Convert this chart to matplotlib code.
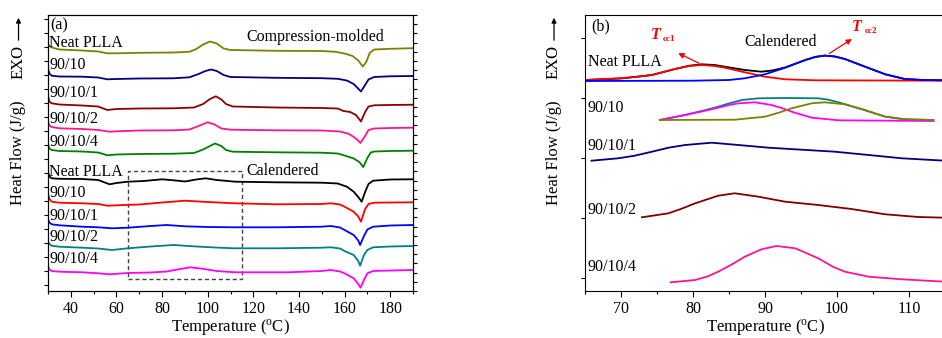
import matplotlib
matplotlib.use("Agg")
import matplotlib.pyplot as plt
from matplotlib.patches import Rectangle
from matplotlib.ticker import MultipleLocator

plt.rcParams["font.family"] = ["Liberation Serif", "DejaVu Serif"]
plt.rcParams["mathtext.fontset"] = "custom"
plt.rcParams["mathtext.rm"] = "Liberation Serif"
plt.rcParams["mathtext.it"] = "Liberation Serif:italic"
plt.rcParams["mathtext.bf"] = "Liberation Serif:bold"

# ---- panel (a): full DSC heating scans (arbitrary heat-flow units, stacked) ----
cm_neat_t = [30, 30.6, 31.6, 35, 45, 52, 56, 60, 70, 85, 92, 95, 98, 101, 104, 107, 110, 130, 150, 156,
             160, 163.5, 166, 168, 169.5, 171, 173, 180, 190]
cm_neat_hf = [241.5, 239, 237.5, 235.5, 234.5, 233.5, 231.7, 231.7, 232.2, 232.5, 233.2, 236, 240.5, 243.5,
              241.5, 236.5, 235, 234.2, 234, 233.2, 231.5, 229, 224.5, 218.5, 223, 232, 235.5, 236.2, 236.8]

cm_9010_t = [30, 30.6, 31.6, 35, 45, 52, 56, 60, 70, 85, 92, 96, 99, 101.5, 104, 107, 110, 130, 150, 157,
             161, 164, 167.2, 169, 170.5, 173, 180, 190]
cm_9010_hf = [216.5, 211.5, 209.3, 208.5, 208.3, 207.5, 205.7, 206, 206.5, 206.7, 207.7, 211, 214, 215.5,
              214, 210, 208, 207.2, 206.8, 206.2, 204.5, 201, 193.5, 200, 205.5, 208, 208.7, 209]

cm_90101_t = [30, 30.6, 31.6, 35, 45, 52, 56, 60, 70, 85, 94, 98, 101, 103.6, 106, 108, 111, 130, 150, 157,
              159.5, 162.5, 165, 167.2, 169, 170.5, 173, 180, 190]
cm_90101_hf = [189, 183.5, 181.7, 180.5, 179.5, 178.5, 175, 176, 176.5, 176.7, 177.5, 181, 186, 188.7,
               185.5, 181, 178.5, 177.5, 177, 176.5, 174, 173, 170, 163.5, 173, 178.5, 179.7, 180, 180.3]

cm_90102_t = [30, 30.6, 31.6, 35, 45, 52, 57, 60, 70, 85, 92, 96, 100, 103, 106, 110, 130, 150, 158, 162,
              165, 167, 169, 170.5, 173, 180, 190]
cm_90102_hf = [163.5, 159.5, 158, 156.7, 156, 155, 153.3, 153.7, 154.5, 154.7, 155.5, 159, 162.7, 160.5,
               156.5, 155.3, 154.7, 154.5, 153.5, 151, 146.5, 142, 149, 155, 156.5, 157, 157.3]

cm_90104_t = [30, 30.6, 31.6, 35, 45, 52, 56, 60, 70, 85, 94, 98, 101, 103.2, 106, 108, 111, 130, 150, 157,
              160, 164, 166.5, 168.2, 170, 171.5, 173, 180, 190]
cm_90104_hf = [141, 136.5, 135, 134, 133.5, 132.5, 129.7, 130.5, 131, 131.3, 132, 135.5, 139, 141.5, 139,
               135, 133.3, 132.7, 132.3, 131.5, 129.5, 126.5, 123, 118, 127, 132.5, 133.5, 134, 134.3]

cal_neat_t = [30, 30.6, 31.6, 35, 45, 52, 57, 60, 65, 72, 80, 86, 90, 95, 99, 104, 112, 130, 150, 157,
              161, 164, 166, 167.5, 169, 170.5, 172.5, 180, 190]
cal_neat_hf = [113, 108.5, 106.7, 106.2, 106, 105, 100.7, 102, 103.3, 104, 105.7, 104.5, 103.5, 105.5,
               106.7, 105, 103.3, 102.7, 102.3, 101.5, 98.3, 93.3, 88, 83.3, 93, 101, 104.3, 105.5, 105.7]

cal_9010_t = [30, 30.6, 31.6, 35, 45, 52, 56, 60, 70, 80, 90, 100, 112, 130, 150, 154, 158, 160, 164, 166,
              167.2, 169, 170.5, 173, 180, 190]
cal_9010_hf = [91, 86, 83.3, 82.3, 81.7, 81, 79.3, 79.7, 80.5, 82.5, 84.3, 83, 81.7, 80.7, 81, 81.7, 80.5,
               78.3, 73.3, 68.5, 63.3, 76, 81, 82.3, 82.5, 82.7]

cal_90101_t = [30, 30.6, 31.6, 35, 45, 52, 58, 65, 75, 82, 90, 100, 112, 130, 150, 154, 158, 160, 164, 166,
               166.8, 168.5, 170, 172.5, 180, 190]
cal_90101_hf = [66, 62.5, 60.7, 59.7, 58.3, 57.7, 56.7, 57.3, 59, 60, 58.7, 58, 57.7, 57.7, 58.3, 59, 57.5,
                55, 50, 44.5, 40, 49, 55.5, 58.3, 59.5, 60]

cal_90102_t = [30, 30.6, 31.6, 35, 45, 52, 58, 65, 75, 85, 95, 105, 112, 130, 150, 154, 158, 160, 164, 166,
               166.8, 168.5, 170, 172.5, 180, 190]
cal_90102_hf = [44, 41, 39.3, 38.3, 37.3, 36.5, 35, 36.7, 38.5, 40, 38.5, 37.3, 36.7, 36.7, 37.3, 37.7,
                36.5, 34, 30, 24, 19.3, 30, 35, 37.7, 38.5, 39]

cal_90104_t = [30, 30.6, 31.6, 35, 45, 52, 57, 65, 75, 82, 88, 92.3, 97, 104, 112, 135, 150, 154, 158, 160,
               164, 166, 167, 168.5, 170, 172.5, 180, 190]
cal_90104_hf = [19, 15.5, 14, 13.3, 12.7, 11.7, 10.7, 12, 12.5, 13.5, 16, 17.7, 16.5, 14, 12.7, 12.7, 14,
                15, 13.5, 11.7, 6.7, 1, -2.7, 5, 11.7, 14, 14.5, 15]

curves_a = [
    (cm_neat_t, cm_neat_hf, "#808000"),
    (cm_9010_t, cm_9010_hf, "#000080"),
    (cm_90101_t, cm_90101_hf, "#8b0000"),
    (cm_90102_t, cm_90102_hf, "#ff1493"),
    (cm_90104_t, cm_90104_hf, "#008000"),
    (cal_neat_t, cal_neat_hf, "black"),
    (cal_9010_t, cal_9010_hf, "red"),
    (cal_90101_t, cal_90101_hf, "blue"),
    (cal_90102_t, cal_90102_hf, "#008080"),
    (cal_90104_t, cal_90104_hf, "#ff00ff"),
]
labels_a = ["Neat PLLA", "90/10", "90/10/1", "90/10/2", "90/10/4",
            "Neat PLLA", "90/10", "90/10/1", "90/10/2", "90/10/4"]
label_pos_a = [241.7, 220, 191.7, 166, 143, 112.7, 92.3, 69.3, 47.7, 26]

# ---- panel (b): cold-crystallization region with peak fits ----
neat_sum_t = [65, 70, 74.3, 77.5, 79.5, 81.2, 83, 84.4, 87.2, 89.5, 91, 92.8, 95.6, 97, 98.3, 99.7, 101.1,
              103.9, 106.7, 109.4, 112, 115]
neat_sum_hf = [198, 199.5, 203, 209, 212.3, 213.7, 213, 211.3, 208, 206.3, 207.5, 210.5, 218, 221, 222.5,
               221.5, 219, 211.3, 203.7, 199, 198, 197.7]
neat_p1_t = [65, 69.6, 72, 74.3, 77.5, 79.5, 81.2, 83, 84.4, 87.2, 90, 92.8, 97, 115]
neat_p1_hf = [198, 199.7, 201, 203, 209, 212, 213, 212, 210.3, 205.7, 201.3, 198.7, 197.7, 197.3]
neat_p2_t = [65, 80, 85, 87.2, 90, 92.8, 95.6, 97, 98.3, 99.7, 101.1, 103.9, 106.7, 109.4, 112, 115]
neat_p2_hf = [197, 197.3, 198, 199.7, 203.7, 210.3, 218, 221.2, 222.3, 221.5, 219, 211.3, 203.7, 199, 198, 197.7]

b9010_sum_t = [75.4, 78.9, 81.5, 83.5, 85.2, 86.8, 89.1, 93, 97.4, 98.8, 100.2, 103, 106.7, 109.4, 113.4]
b9010_sum_hf = [158, 163, 167.5, 171.3, 175, 178, 179.7, 180, 179.7, 178.3, 175.7, 169.7, 161.3, 158.7, 158]
b9010_p1_t = [75.4, 78.9, 81.5, 83.5, 85, 86.3, 88.6, 90.9, 92.3, 93.7, 96.5, 100.2, 113.4]
b9010_p1_hf = [158, 163, 167, 170.3, 173, 174.7, 175.7, 173, 170, 166.3, 160.3, 157.7, 157]
b9010_p2_t = [75.4, 85.8, 90, 92, 93.7, 96.5, 98.3, 101.1, 103.9, 106.7, 109.4, 113.4]
b9010_p2_hf = [158, 158.3, 161.3, 165.5, 169.7, 174.7, 175.7, 173.7, 168, 161.3, 158.7, 158]

b90101_t = [65.9, 69.6, 71.9, 74.3, 76.6, 78.9, 82.6, 86.3, 90.5, 95.1, 99.7, 104.4, 109, 115]
b90101_hf = [117.3, 119.7, 122.3, 126.3, 130.3, 133, 135.3, 133, 130.3, 128.3, 126.3, 123, 119.7, 117.3]

b90102_t = [72.9, 76.6, 78.5, 80.3, 83.5, 85.8, 89.1, 92.8, 97.4, 102, 106.7, 111.3, 115]
b90102_hf = [60.7, 64.7, 69.5, 74.7, 82.3, 84.7, 81.3, 76.3, 73, 69, 63.7, 61, 60.3]

b90104_t = [76.9, 80.3, 82, 83.5, 85.5, 87.2, 89.5, 91.6, 94.2, 97.4, 99.5, 101.1, 104.4, 109, 115]
b90104_hf = [-4.3, -2, 1.5, 6.3, 14, 21.3, 28.7, 32, 29.7, 19.7, 11, 6.3, 1.3, -1.3, -3.7]

curves_b = [
    (neat_sum_t, neat_sum_hf, "black"),
    (neat_p1_t, neat_p1_hf, "red"),
    (neat_p2_t, neat_p2_hf, "blue"),
    (b9010_sum_t, b9010_sum_hf, "#008080"),
    (b9010_p1_t, b9010_p1_hf, "#ff00ff"),
    (b9010_p2_t, b9010_p2_hf, "#808000"),
    (b90101_t, b90101_hf, "#000080"),
    (b90102_t, b90102_hf, "#800000"),
    (b90104_t, b90104_hf, "#ff1493"),
]
labels_b = ["Neat PLLA", "90/10", "90/10/1", "90/10/2", "90/10/4"]
label_pos_b = [216.3, 170, 132.3, 68, 11.3]

FS = 11.5
LW = 1.3


def style_axes(ax):
    for s in ax.spines.values():
        s.set_linewidth(0.8)
    ax.tick_params(axis="x", which="major", direction="out", length=4, width=0.8, labelsize=FS, pad=3)
    ax.tick_params(axis="x", which="minor", direction="out", length=2.5, width=0.8)
    ax.tick_params(axis="y", which="both", direction="out", length=3, width=0.8, labelleft=False)


fig = plt.figure(figsize=(9.42, 3.38), dpi=100)

# panel (a)
ax1 = fig.add_axes([48 / 942, 47 / 338, 365 / 942, 276 / 338])
for t, hf, c in curves_a:
    ax1.plot(t, hf, color=c, lw=LW)
ax1.set_xlim(30, 190)
ax1.set_ylim(-6, 270)
ax1.xaxis.set_major_locator(MultipleLocator(20))
ax1.xaxis.set_minor_locator(MultipleLocator(10))
ax1.yaxis.set_major_locator(MultipleLocator(14))
style_axes(ax1)
ax1r = ax1.twinx()
ax1r.set_ylim(0, 30)
ax1r.yaxis.set_major_locator(MultipleLocator(1))
ax1r.tick_params(axis="y", direction="out", length=3, width=0.8, labelright=False)
ax1r.spines["right"].set_linewidth(0.8)

for lab, y in zip(labels_a, label_pos_a):
    ax1.text(30.6, y, lab, fontsize=FS, va="center", ha="left")
ax1.text(31.2, 260, "(a)", fontsize=FS, va="center", ha="left")
ax1.text(117, 247.7, "Compression-molded", fontsize=FS, va="center", ha="left")
ax1.text(117, 114.3, "Calendered", fontsize=FS, va="center", ha="left")
ax1.add_patch(Rectangle((65, 5.7), 50, 108.6, fill=False, ls=(0, (3, 2)), lw=1.0, ec="#444444"))
ax1.set_xlabel(r"Temperature ($^{\rm o}$C)", fontsize=12, labelpad=0)

# panel (b)
ax2 = fig.add_axes([585 / 942, 47 / 338, 360 / 942, 276 / 338])
for t, hf, c in curves_b:
    ax2.plot(t, hf, color=c, lw=LW)
ax2.set_xlim(65, 115)
ax2.set_ylim(-13, 263)
ax2.xaxis.set_major_locator(MultipleLocator(10))
ax2.xaxis.set_minor_locator(MultipleLocator(5))
ax2.yaxis.set_major_locator(MultipleLocator(60))
style_axes(ax2)
for lab, y in zip(labels_b, label_pos_b):
    ax2.text(65.4, y, lab, fontsize=FS, va="center", ha="left")
ax2.text(65.8, 251.3, "(b)", fontsize=FS, va="center", ha="left")
ax2.text(87.1, 236.3, "Calendered", fontsize=FS, va="center", ha="left")
ax2.set_xlabel(r"Temperature ($^{\rm o}$C)", fontsize=12, labelpad=0)

arrow = dict(arrowstyle="-|>", color="red", lw=0.9, mutation_scale=8)
ax2.annotate("", xy=(77.6, 226), xytext=(81.2, 213.5), arrowprops=arrow)
ax2.annotate("", xy=(102.4, 240.5), xytext=(98.6, 223), arrowprops=arrow)
ax2.text(74.1, 243, "T", color="red", fontsize=FS, fontweight="bold", fontstyle="italic", va="center")
ax2.text(75.8, 239.5, "cc1", color="red", fontsize=6.5, fontweight="bold", va="center")
ax2.text(102.1, 251, "T", color="red", fontsize=FS, fontweight="bold", fontstyle="italic", va="center")
ax2.text(103.8, 247.5, "cc2", color="red", fontsize=6.5, fontweight="bold", va="center")

# y-axis titles with EXO arrows
for xc in (18.5 / 942, 554 / 942):
    fig.text(xc, 1 - 153 / 338, "Heat Flow (J/g)", rotation=90, fontsize=12, ha="center", va="center")
    fig.text(xc, 1 - 62 / 338, "EXO", rotation=90, fontsize=12, ha="center", va="center")
    fig.add_artist(matplotlib.patches.FancyArrowPatch(
        (xc, 1 - 43 / 338), (xc, 1 - 15 / 338), transform=fig.transFigure,
        arrowstyle="-|>", mutation_scale=7, lw=0.9, color="black"))

fig.savefig("out.png", dpi=100)
